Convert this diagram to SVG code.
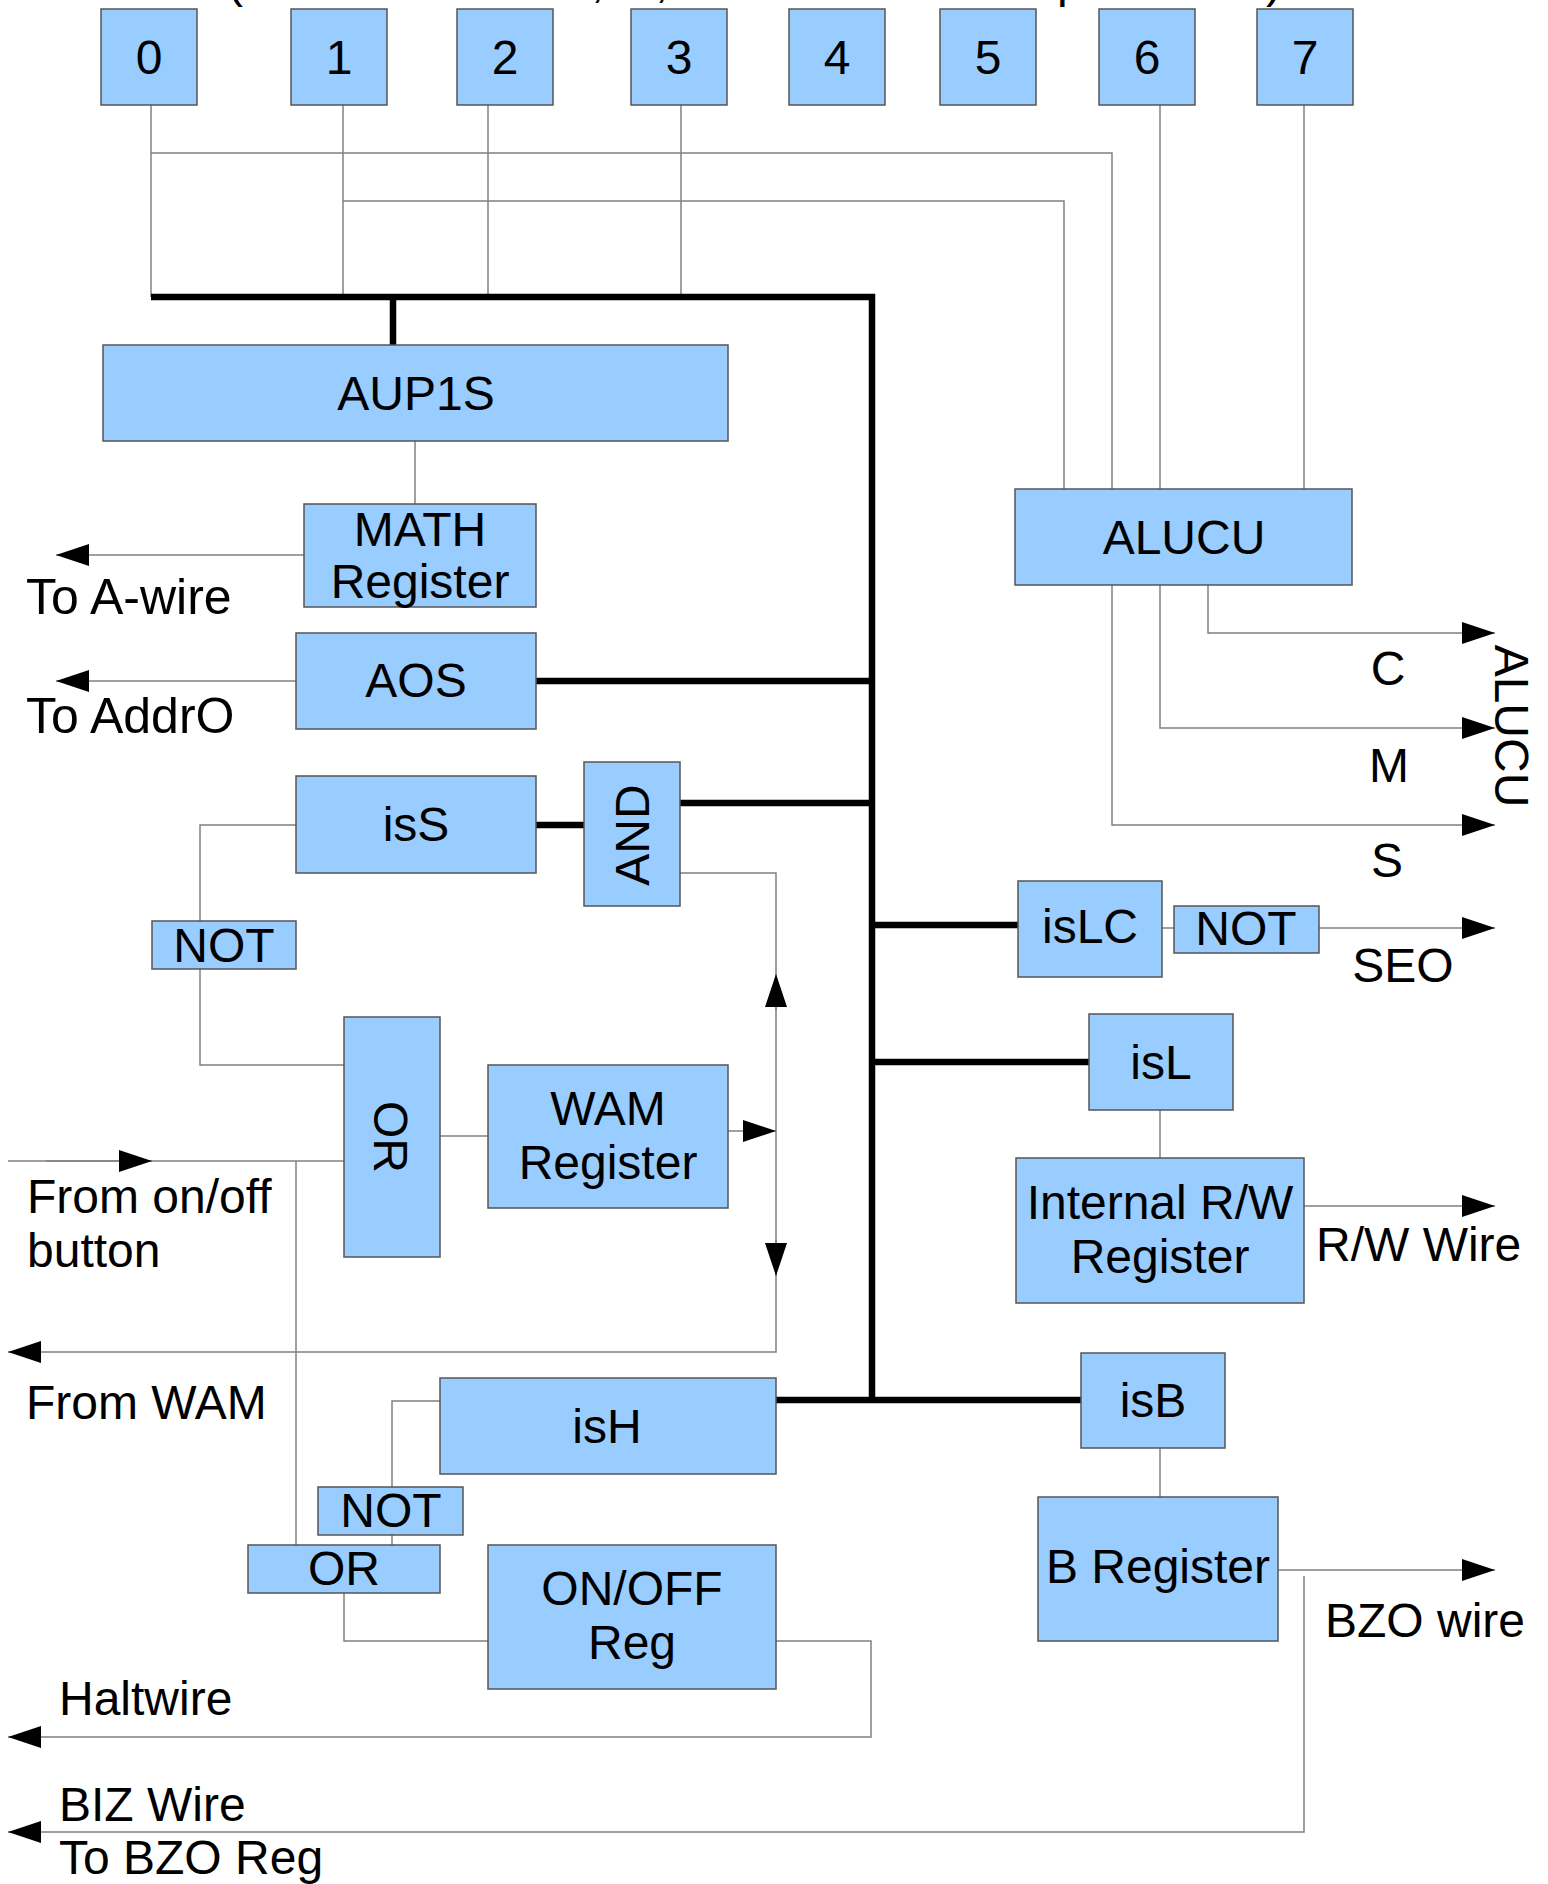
<svg xmlns="http://www.w3.org/2000/svg" width="1548" height="1884" viewBox="0 0 1548 1884">
<style>
  .box { fill: #99ccff; stroke: #555555; stroke-width: 1.5; }
  .t { font-family: "Liberation Sans", Arial, sans-serif; font-size: 48px; fill: #000; }
  .c { text-anchor: middle; }
  .big { font-size: 50px; }
  .w { fill: none; stroke: #808080; stroke-width: 1.5; }
  .bus { fill: none; stroke: #000; stroke-width: 6.5; }
  .a { marker-end: url(#arr); }
</style>
<defs>
  <marker id="arr" viewBox="0 0 33 22" refX="33" refY="11" markerWidth="33" markerHeight="22" markerUnits="userSpaceOnUse" orient="auto">
    <path d="M0,0 L33,11 L0,22 Z" fill="#000"/>
  </marker>
</defs>
<rect width="1548" height="1884" fill="#fff"/>

<g id="caption-fragments" class="t">
  <text x="227" y="-3">(</text>
  <text x="591" y="-3">,</text>
  <text x="655" y="-3">,</text>
  <text x="1057" y="-3">p</text>
  <text x="1266" y="-3">)</text>
</g>

<g id="connectors">
  <!-- bit lines -->
  <path class="w" d="M151,105 V297"/>
  <path class="w" d="M343,105 V297"/>
  <path class="w" d="M488,105 V297"/>
  <path class="w" d="M681,105 V297"/>
  <path class="w" d="M1160,105 V489"/>
  <path class="w" d="M1304,105 V489"/>
  <path class="w" d="M151,153 H1112 V489"/>
  <path class="w" d="M343,201 H1064 V489"/>
  <!-- thick bus -->
  <path class="bus" d="M151,297 H872 V1400"/>
  <path class="bus" d="M393,297 V345"/>
  <path class="bus" d="M536,681 H872"/>
  <path class="bus" d="M680,803 H872"/>
  <path class="bus" d="M536,825 H584"/>
  <path class="bus" d="M872,925 H1018"/>
  <path class="bus" d="M872,1062 H1089"/>
  <path class="bus" d="M776,1400 H1081"/>
  <!-- left side -->
  <path class="w" d="M415,441 V504"/>
  <path class="w a" d="M304,555 H56"/>
  <path class="w a" d="M296,681 H56"/>
  <path class="w" d="M296,825 H200 V921"/>
  <path class="w" d="M200,969 V1065 H344"/>
  <path class="w" d="M440,1136 H488"/>
  <path class="w" d="M8,1161 H344"/>
  <path class="w a" d="M46,1161 H152"/>
  <path class="w" d="M296,1161 V1545"/>
  <path class="w a" d="M680,873 H776 V1352 H8"/>
  <path class="w a" d="M776,1010 V974"/>
  <path class="w a" d="M776,1240 V1276"/>
  <path class="w a" d="M728,1131 H776"/>
  <path class="w" d="M440,1401 H392 V1487"/>
  <path class="w" d="M392,1535 V1545"/>
  <path class="w" d="M344,1593 V1641 H488"/>
  <path class="w a" d="M776,1641 H871 V1737 H8"/>
  <path class="w a" d="M1304,1576 V1832 H8"/>
  <!-- right side -->
  <path class="w a" d="M1208,585 V633 H1495"/>
  <path class="w a" d="M1160,585 V728 H1495"/>
  <path class="w a" d="M1112,585 V825 H1495"/>
  <path class="w" d="M1162,928 H1174"/>
  <path class="w a" d="M1319,928 H1495"/>
  <path class="w" d="M1160,1110 V1158"/>
  <path class="w a" d="M1304,1206 H1495"/>
  <path class="w" d="M1160,1448 V1497"/>
  <path class="w a" d="M1278,1570 H1495"/>
</g>

<g id="bit0"><rect class="box" x="101" y="9" width="96" height="96"/><text class="t c" x="149" y="74">0</text></g>
<g id="bit1"><rect class="box" x="291" y="9" width="96" height="96"/><text class="t c" x="339" y="74">1</text></g>
<g id="bit2"><rect class="box" x="457" y="9" width="96" height="96"/><text class="t c" x="505" y="74">2</text></g>
<g id="bit3"><rect class="box" x="631" y="9" width="96" height="96"/><text class="t c" x="679" y="74">3</text></g>
<g id="bit4"><rect class="box" x="789" y="9" width="96" height="96"/><text class="t c" x="837" y="74">4</text></g>
<g id="bit5"><rect class="box" x="940" y="9" width="96" height="96"/><text class="t c" x="988" y="74">5</text></g>
<g id="bit6"><rect class="box" x="1099" y="9" width="96" height="96"/><text class="t c" x="1147" y="74">6</text></g>
<g id="bit7"><rect class="box" x="1257" y="9" width="96" height="96"/><text class="t c" x="1305" y="74">7</text></g>

<g id="aup1s"><rect class="box" x="103" y="345" width="625" height="96"/><text class="t c" x="416" y="410">AUP1S</text></g>
<g id="math-register"><rect class="box" x="304" y="504" width="232" height="103"/><text class="t c" x="420" y="546">MATH</text><text class="t c" x="420" y="598">Register</text></g>
<g id="aos"><rect class="box" x="296" y="633" width="240" height="96"/><text class="t c" x="416" y="697">AOS</text></g>
<g id="iss"><rect class="box" x="296" y="776" width="240" height="97"/><text class="t c" x="416" y="841">isS</text></g>
<g id="and-gate"><rect class="box" x="584" y="762" width="96" height="144"/><text class="t c" transform="translate(649,835) rotate(-90)">AND</text></g>
<g id="not-left"><rect class="box" x="152" y="921" width="144" height="48"/><text class="t c" x="224" y="962">NOT</text></g>
<g id="or-left"><rect class="box" x="344" y="1017" width="96" height="240"/><text class="t c" transform="translate(374,1137) rotate(90)">OR</text></g>
<g id="wam-register"><rect class="box" x="488" y="1065" width="240" height="143"/><text class="t c" x="608" y="1125">WAM</text><text class="t c" x="608" y="1179">Register</text></g>
<g id="ish"><rect class="box" x="440" y="1378" width="336" height="96"/><text class="t c" x="607" y="1443">isH</text></g>
<g id="not-lower"><rect class="box" x="318" y="1487" width="145" height="48"/><text class="t c" x="391" y="1527">NOT</text></g>
<g id="or-lower"><rect class="box" x="248" y="1545" width="192" height="48"/><text class="t c" x="344" y="1585">OR</text></g>
<g id="onoff-reg"><rect class="box" x="488" y="1545" width="288" height="144"/><text class="t c" x="632" y="1605">ON/OFF</text><text class="t c" x="632" y="1659">Reg</text></g>

<g id="alucu"><rect class="box" x="1015" y="489" width="337" height="96"/><text class="t c" x="1184" y="554">ALUCU</text></g>
<g id="islc"><rect class="box" x="1018" y="881" width="144" height="96"/><text class="t c" x="1090" y="943">isLC</text></g>
<g id="not-right"><rect class="box" x="1174" y="906" width="145" height="47"/><text class="t c" x="1246" y="945">NOT</text></g>
<g id="isl"><rect class="box" x="1089" y="1014" width="144" height="96"/><text class="t c" x="1161" y="1079">isL</text></g>
<g id="internal-rw"><rect class="box" x="1016" y="1158" width="288" height="145"/><text class="t c" x="1160" y="1219">Internal R/W</text><text class="t c" x="1160" y="1273">Register</text></g>
<g id="isb"><rect class="box" x="1081" y="1353" width="144" height="95"/><text class="t c" x="1153" y="1417">isB</text></g>
<g id="b-register"><rect class="box" x="1038" y="1497" width="240" height="144"/><text class="t c" x="1158" y="1583">B Register</text></g>

<g id="labels" class="t">
  <text class="big" x="26" y="614">To A-wire</text>
  <text class="big" x="26" y="733">To AddrO</text>
  <text x="27" y="1213">From on/off</text>
  <text x="27" y="1267">button</text>
  <text x="26" y="1419">From WAM</text>
  <text x="59" y="1715">Haltwire</text>
  <text x="59" y="1821">BIZ Wire</text>
  <text x="59" y="1874">To BZO Reg</text>
  <text class="c" x="1388" y="685">C</text>
  <text class="c" x="1389" y="782">M</text>
  <text class="c" x="1387" y="877">S</text>
  <text class="c" transform="translate(1495,726) rotate(90)">ALUCU</text>
  <text class="c" x="1403" y="982">SEO</text>
  <text x="1316" y="1261">R/W Wire</text>
  <text x="1325" y="1637">BZO wire</text>
</g>
</svg>
